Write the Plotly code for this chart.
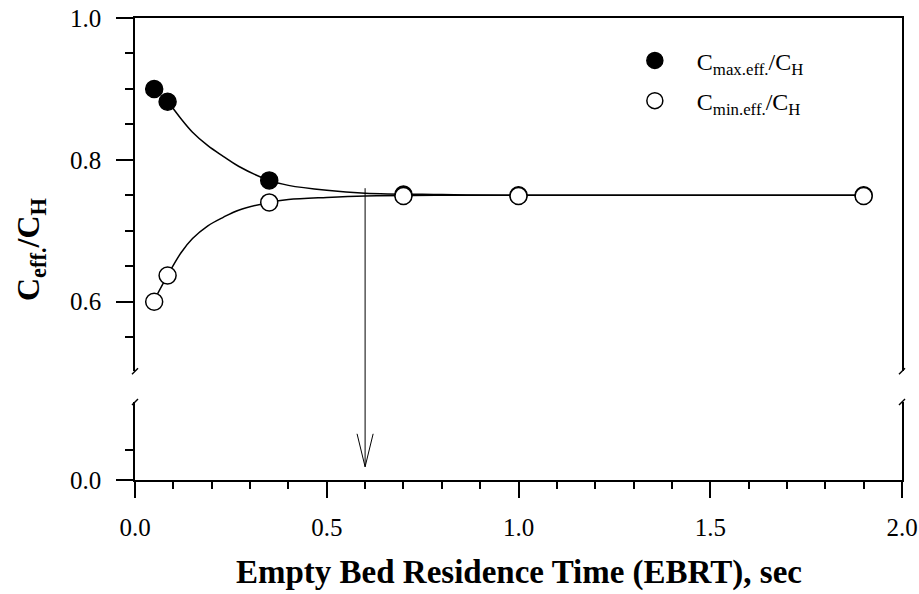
import plotly.graph_objects as go

# Measured effluent ratios vs. empty bed residence time
ebrt = [0.05, 0.085, 0.35, 0.70, 1.00, 1.90]
c_max_ratio = [0.900, 0.882, 0.771, 0.751, 0.750, 0.750]
c_min_ratio = [0.600, 0.637, 0.740, 0.749, 0.749, 0.749]

# Smooth trend lines through the two series
fit_max_x = [0.085, 0.12, 0.15, 0.19, 0.23, 0.27, 0.35, 0.40, 0.50, 0.60, 0.80, 1.00, 1.40, 1.90]
fit_max_y = [0.883, 0.858, 0.839, 0.820, 0.805, 0.791, 0.771, 0.764, 0.757, 0.753, 0.751, 0.750, 0.750, 0.750]
fit_min_x = [0.05, 0.085, 0.12, 0.15, 0.19, 0.23, 0.27, 0.35, 0.40, 0.50, 0.60, 0.80, 1.00, 1.40, 1.90]
fit_min_y = [0.602, 0.637, 0.669, 0.689, 0.707, 0.719, 0.729, 0.740, 0.744, 0.747, 0.749, 0.750, 0.750, 0.750, 0.750]

# Arrow marking the EBRT where both ratios converge
arrow_x = 0.6
arrow_from = 0.76
arrow_to = 0.022

x_ticks = [0.0, 0.5, 1.0, 1.5, 2.0]
x_ticktext = ["0.0", "0.5", "1.0", "1.5", "2.0"]
upper_ticks = [0.6, 0.8, 1.0]
upper_ticktext = ["0.6", "0.8", "1.0"]
lower_ticks = [0.0]
lower_ticktext = ["0.0"]

FONT = "Times New Roman, Liberation Serif, serif"

# broken y axis: lower and upper segments
LOWER_RANGE = [0.0, 0.13]
UPPER_RANGE = [0.502, 1.0]
LOWER_DOMAIN = [0.0, 0.1688]
UPPER_DOMAIN = [0.2355, 1.0]


def to_paper(v, rng, dom):
    return dom[0] + (v - rng[0]) / (rng[1] - rng[0]) * (dom[1] - dom[0])


fig = go.Figure()

fig.add_trace(go.Scatter(x=fit_max_x, y=fit_max_y, mode="lines", line=dict(color="black", width=1.5, shape="spline"),
                         xaxis="x2", yaxis="y2", showlegend=False, hoverinfo="skip"))
fig.add_trace(go.Scatter(x=fit_min_x, y=fit_min_y, mode="lines", line=dict(color="black", width=1.5, shape="spline"),
                         xaxis="x2", yaxis="y2", showlegend=False, hoverinfo="skip"))
fig.add_trace(go.Scatter(x=ebrt, y=c_max_ratio, mode="markers", name="C<sub>max.eff.</sub>/C<sub>H</sub>",
                         marker=dict(size=17, color="black", line=dict(color="black", width=1.5)),
                         xaxis="x2", yaxis="y2", legendgroup="a"))
fig.add_trace(go.Scatter(x=ebrt, y=c_min_ratio, mode="markers", name="C<sub>min.eff.</sub>/C<sub>H</sub>",
                         marker=dict(size=17, color="white", line=dict(color="black", width=1.5)),
                         xaxis="x2", yaxis="y2", legendgroup="b"))

axis_common = dict(showgrid=False, zeroline=False, showline=True, linecolor="black", linewidth=1.5,
                   tickcolor="black", tickwidth=1.5, automargin=False,
                   tickfont=dict(family=FONT, size=25, color="black"))

fig.update_layout(
    width=919, height=594,
    margin=dict(l=135, r=17, t=18, b=114),
    plot_bgcolor="white", paper_bgcolor="white",
    font=dict(family=FONT, color="black"),
    xaxis=dict(range=[0, 2], domain=[0, 1], anchor="y", tickvals=x_ticks, ticktext=x_ticktext,
               ticks="outside", ticklen=16, ticklabelstandoff=8,
               minor=dict(dtick=0.1, tick0=0, ticks="outside", ticklen=7, tickwidth=1.5, tickcolor="black"),
               **axis_common),
    xaxis2=dict(range=[0, 2], domain=[0, 1], anchor="y2", matches="x", side="top", ticks="",
                showticklabels=False, **axis_common),
    yaxis=dict(range=LOWER_RANGE, domain=LOWER_DOMAIN, anchor="x", tickvals=lower_ticks, ticktext=lower_ticktext,
               ticks="outside", ticklen=17, mirror=True, ticklabelstandoff=10,
               minor=dict(tickvals=[0.05], ticks="outside", ticklen=8, tickwidth=1.5, tickcolor="black"),
               **axis_common),
    yaxis2=dict(range=UPPER_RANGE, domain=UPPER_DOMAIN, anchor="x2", tickvals=upper_ticks, ticktext=upper_ticktext,
                ticks="outside", ticklen=17, mirror=True, ticklabelstandoff=10,
                minor=dict(dtick=0.05, tick0=0, ticks="outside", ticklen=8, tickwidth=1.5, tickcolor="black"),
                **axis_common),
    legend=dict(x=0.623, y=0.956, xanchor="left", yanchor="top", bgcolor="rgba(0,0,0,0)",
                font=dict(family=FONT, size=24, color="black"), itemwidth=74,
                traceorder="grouped", tracegroupgap=6),
    hovermode=False,
)

# break marks at both ends of the gap, left and right sides
for xd in (0, 1):
    for ydom, yval in (("y2 domain", 0), ("y domain", 1)):
        fig.add_shape(type="line", xref="x domain", yref=ydom,
                      xsizemode="pixel", xanchor=xd, x0=-3, x1=3,
                      ysizemode="pixel", yanchor=yval, y0=-3, y1=3,
                      line=dict(color="black", width=1.5))

# arrow shaft spanning the axis break
fig.add_shape(type="line", xref="x", yref="paper",
              x0=arrow_x, x1=arrow_x,
              y0=to_paper(arrow_from, UPPER_RANGE, UPPER_DOMAIN),
              y1=to_paper(arrow_to, LOWER_RANGE, LOWER_DOMAIN),
              line=dict(color="black", width=1))
# open arrow head
fig.add_shape(type="path", xref="x", yref="y",
              path=f"M {arrow_x - 0.021},{arrow_to + 0.055} L {arrow_x},{arrow_to} L {arrow_x + 0.021},{arrow_to + 0.055}",
              line=dict(color="black", width=1))

fig.add_annotation(text="<b>Empty Bed Residence Time (EBRT), sec</b>", xref="paper", yref="paper",
                   x=0.5, y=0, yanchor="middle", yshift=-92, showarrow=False,
                   font=dict(family=FONT, size=33, color="black"))
fig.add_annotation(text="<b>C<sub>eff.</sub>/C<sub>H</sub></b>", xref="paper", yref="paper",
                   x=0, y=0.5, xanchor="center", yanchor="middle", xshift=-105, textangle=-90, showarrow=False,
                   font=dict(family=FONT, size=32, color="black"))

fig.write_html("out.html")
